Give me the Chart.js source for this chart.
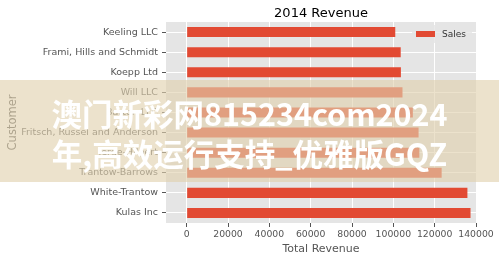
<!DOCTYPE html>
<html>
<head>
<meta charset="utf-8">
<script src="https://cdn.jsdelivr.net/npm/chart.js@4.4.0/dist/chart.umd.min.js"></script>
<style>
  body { margin: 0; background: #fff; }
  #wrap { position: relative; width: 499px; height: 262px; }
  #banner {
    position: absolute; left: 0; top: 80px; width: 499px; height: 102px;
    box-sizing: border-box; padding-top: 13px;
    background: rgba(225, 209, 174, 0.63);
    color: #fff; font: bold 30.5px "Noto Sans CJK SC";
    line-height: 40px; text-align: center; white-space: nowrap;
  }
</style>
</head>
<body>
<div id="wrap">
  <canvas id="revenueChart"></canvas>
  <div id="banner">澳门新彩网815234com2024<br>年,高效运行支持_优雅版GQZ</div>
</div>
<script>
// data, top row first
const customers = ["Keeling LLC", "Frami, Hills and Schmidt", "Koepp Ltd", "Will LLC", "Barton LLC",
  "Fritsch, Russel and Anderson", "Jerde-Hilpert", "Trantow-Barrows", "White-Trantow", "Kulas Inc"];
const sales = [100934, 103570, 103661, 104438, 109439, 112215, 112591, 123381, 135842, 137352];
const xTicks = [0, 20000, 40000, 60000, 80000, 100000, 120000, 140000];
const xMin = -10000;
const xMax = 140000;

Chart.defaults.font.family = "DejaVu Sans";

const BAR = "#E24A33";

// grey ggplot-style panel
const panelBg = {
  id: "panelBg",
  beforeDraw(chart) {
    const a = chart.chartArea, ctx = chart.ctx;
    ctx.save();
    ctx.fillStyle = "#E5E5E5";
    ctx.fillRect(a.left, a.top, a.right - a.left, a.bottom - a.top);
    ctx.restore();
  }
};

// title and the in-panel legend
const titleLegend = {
  id: "titleLegend",
  afterDraw(chart) {
    const a = chart.chartArea, ctx = chart.ctx;
    ctx.save();
    ctx.fillStyle = "#000";
    ctx.font = "13px 'DejaVu Sans'";
    ctx.textAlign = "center";
    ctx.textBaseline = "alphabetic";
    ctx.fillText("2014 Revenue", (a.left + a.right) / 2, 16.5);

    const lx = a.right - 64, ly = a.top + 3;
    ctx.fillStyle = "rgba(229,229,229,0.8)";
    ctx.fillRect(lx, ly, 60, 18);
    ctx.fillStyle = BAR;
    ctx.fillRect(lx + 4, ly + 6, 19, 6);
    ctx.fillStyle = "#333";
    ctx.font = "9px 'DejaVu Sans'";
    ctx.textAlign = "left";
    ctx.textBaseline = "middle";
    ctx.fillText(chart.data.datasets[0].label, lx + 30, ly + 9.5);
    ctx.restore();
  }
};

new Chart(document.getElementById("revenueChart"), {
  type: "bar",
  data: {
    labels: customers,
    datasets: [{
      label: "Sales",
      data: sales,
      backgroundColor: BAR,
      borderWidth: 0,
      barPercentage: 0.5,
      categoryPercentage: 1
    }]
  },
  options: {
    indexAxis: "y",
    responsive: true,
    maintainAspectRatio: false,
    animation: false,
    layout: { padding: { top: 22, right: 23, left: 0, bottom: 0 } },
    plugins: {
      legend: { display: false },
      title: { display: false },
      tooltip: { enabled: false }
    },
    scales: {
      x: {
        type: "linear",
        min: xMin,
        max: xMax,
        afterBuildTicks: s => { s.ticks = xTicks.map(v => ({ value: v })); },
        afterFit: s => { s.height = 39; },
        grid: { color: "#fff", tickColor: "#555", tickLength: 4 },
        border: { display: false },
        ticks: { color: "#555", font: { size: 9.3 }, padding: 2, maxRotation: 0, callback: v => String(v) },
        title: { display: true, text: "Total Revenue", color: "#555", font: { size: 11 }, padding: { top: 0, bottom: 6 } }
      },
      y: {
        afterFit: s => { s.width = 166; },
        grid: { color: "#fff", tickColor: "#555", tickLength: 4, offset: false },
        border: { display: false },
        ticks: { color: "#555", font: { size: 9.5 }, padding: 4 },
        title: { display: true, text: "Customer", color: "#555", font: { size: 11.5 }, padding: { top: 6, bottom: 0 } }
      }
    }
  },
  plugins: [panelBg, titleLegend]
});
</script>
</body>
</html>
